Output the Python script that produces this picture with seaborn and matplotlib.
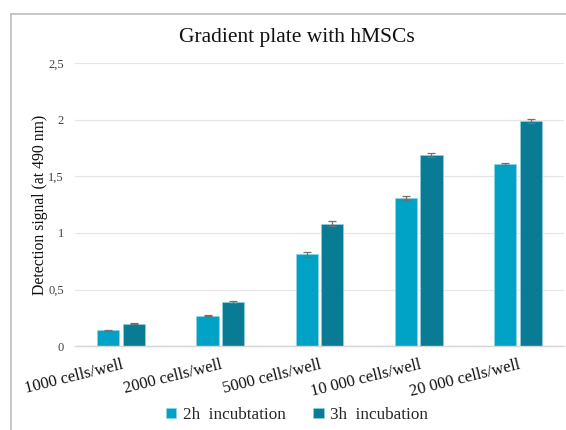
import matplotlib
matplotlib.use("Agg")
import matplotlib.pyplot as plt
from matplotlib.lines import Line2D
import seaborn as sns
import pandas as pd
import numpy as np

# Cell densities and detection signal (absorbance at 490 nm)
categories = ["1000 cells/well", "2000 cells/well", "5000 cells/well",
              "10 000 cells/well", "20 000 cells/well"]
series = ["2h  incubtation", "3h  incubation"]
signal_2h = [0.14, 0.27, 0.81, 1.31, 1.61]
signal_3h = [0.20, 0.39, 1.08, 1.69, 1.99]
err_2h = [0.005, 0.008, 0.018, 0.016, 0.010]
err_3h = [0.008, 0.010, 0.022, 0.020, 0.016]
y_ticks = [0, 0.5, 1, 1.5, 2, 2.5]
y_tick_labels = ["0", "0,5", "1", "1,5", "2", "2,5"]

colors = ["#00A3C6", "#0A7B95"]

df = pd.DataFrame({
    "density": categories * 2,
    "series": [series[0]] * len(categories) + [series[1]] * len(categories),
    "signal": signal_2h + signal_3h,
})

sns.set_theme(style="white")
plt.rcParams["font.family"] = ["Liberation Serif", "DejaVu Serif"]

fig = plt.figure(figsize=(5.66, 4.30), dpi=100)
ax = fig.add_axes([0.1325, 0.195, 0.864, 0.658])

sns.barplot(data=df, x="density", y="signal", hue="series",
            palette=colors, saturation=1, width=0.51, gap=0.12,
            errorbar=None, edgecolor="#8fd6e6", linewidth=0.4, ax=ax)

# error bars at bar centres
for cont, errs in zip(ax.containers, [err_2h, err_3h]):
    xs = [p.get_x() + p.get_width() / 2 for p in cont.patches]
    ys = [p.get_height() for p in cont.patches]
    ax.errorbar(xs, ys, yerr=errs, fmt="none", ecolor="#707070",
                elinewidth=0.9, capsize=3, capthick=0.9, zorder=5)

ax.set_ylim(0, 2.5)
ax.set_yticks(y_ticks)
ax.set_yticklabels(y_tick_labels, fontsize=9, color="#404040")
ax.yaxis.grid(True, color="#e6e6e6", linewidth=0.9)
ax.set_axisbelow(True)
ax.tick_params(axis="y", length=0, pad=8)
ax.tick_params(axis="x", length=0, pad=8)
for lab in ax.get_xticklabels():
    lab.set_rotation(14)
    lab.set_ha("right")
    lab.set_rotation_mode("anchor")
    lab.set_fontsize(12)
    lab.set_color("#111111")

for s in ["left", "right", "top"]:
    ax.spines[s].set_visible(False)
ax.spines["bottom"].set_color("#d6d6d6")
ax.spines["bottom"].set_linewidth(1.0)

ax.set_xlabel("")
ax.set_ylabel("Detection signal (at 490 nm)", fontsize=11.3, color="#111111")
ax.yaxis.set_label_coords(-0.056, 0.5)

fig.text(0.525, 0.913, "Gradient plate with hMSCs", ha="center", va="center",
         fontsize=15.5, color="#111111")

handles, labels = ax.get_legend_handles_labels()
ax.legend_.remove()
fig.legend(handles, labels, loc="center", bbox_to_anchor=(0.525, 0.035),
           ncol=2, frameon=False, fontsize=12.3, handlelength=0.6,
           handleheight=0.6, handletextpad=0.4, columnspacing=1.6)

# chart-area border (left and top edges)
fig.add_artist(Line2D([0.0195, 0.0195], [0.0, 0.967], transform=fig.transFigure,
                      color="#bdbdbd", linewidth=1.2))
fig.add_artist(Line2D([0.0195, 1.0], [0.967, 0.967], transform=fig.transFigure,
                      color="#bdbdbd", linewidth=1.2))

fig.savefig("out.png", dpi=100)
